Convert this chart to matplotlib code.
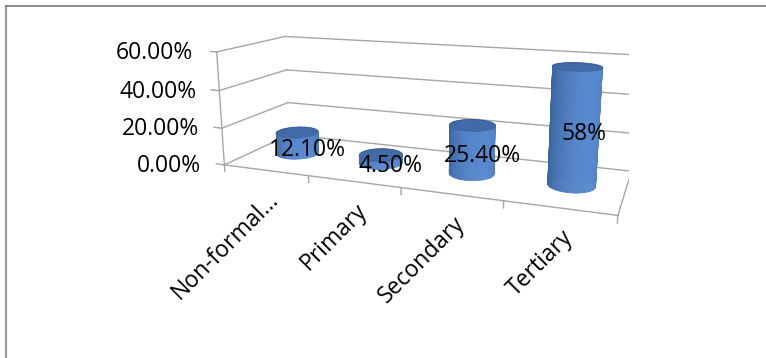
import numpy as np
import matplotlib
matplotlib.use('Agg')
import matplotlib.pyplot as plt
from matplotlib.lines import Line2D
from matplotlib.transforms import offset_copy
from mpl_toolkits.mplot3d import proj3d
from mpl_toolkits.mplot3d.art3d import Poly3DCollection

plt.rcParams['font.family'] = ['Open Sans', 'DejaVu Sans']

# data
categories = ['Non-formal...', 'Primary', 'Secondary', 'Tertiary']
shares = [12.1, 4.5, 25.4, 58.0]
share_labels = ['12.10%', '4.50%', '25.40%', '58%']
value_ticks = [0, 20, 40, 60]
value_tick_labels = ['0.00%', '20.00%', '40.00%', '60.00%']

W, H = 766, 358
fig = plt.figure(figsize=(W / 100, H / 100), dpi=100)

# camera roughly matched to the excel 3-D rotation
elev, azim, focal = 13.39, -69.27, 0.3149
box = (1, 0.3226, 0.2976)
S, cx, cy = 419.1, 419.5, 117.5
w, h = S / W, S / H
ax = fig.add_axes([cx / W - w / 2, (H - cy) / H - h / 2, w, h],
                  projection='3d', computed_zorder=False)
ax.set_xlim(0, len(categories))
ax.set_ylim(0, 1)
ax.set_zlim(0, 60)
ax.set_box_aspect(box)
ax.view_init(elev=elev, azim=azim, roll=0)
ax.set_proj_type('persp', focal_length=focal)
ax.set_axis_off()
ax.patch.set_alpha(0)

M = ax.get_proj()


def label(x, y, z, s, dx=0, dy=0, **kw):
    # 3d anchor -> 2d text so rotation / offsets behave
    px, py, _ = proj3d.proj_transform(x, y, z, M)
    tr = offset_copy(ax.transData, fig=fig, x=dx, y=dy, units='dots')
    return ax.text2D(px, py, s, transform=tr, fontsize=16.5, **kw)


n = len(categories)
zmax = value_ticks[-1]
grid = dict(color='#a6a6a6', lw=1.0, zorder=1)

# walls: back wall + left wall gridlines
for z in value_ticks:
    ax.plot([0, n], [1, 1], [z, z], **grid)
    ax.plot([0, 0], [0, 1], [z, z], **grid)
# value axis and floor outline
ax.plot([0, 0], [0, 0], [0, zmax], **grid)
ax.plot([0, n], [0, 0], [0, 0], **grid)
ax.plot([n, n], [0, 1], [0, 0], **grid)

# ticks
for z in value_ticks:
    ax.plot([-0.1, 0], [0, 0], [z, z], **grid)
for i in range(n + 1):
    ax.plot([i, i], [0, 0], [0, -3.5], **grid)

# tick labels
for z, lab in zip(value_ticks, value_tick_labels):
    label(-0.1, 0, z, lab, dx=-15, dy=-2, ha='right', va='center')
for i, cat in enumerate(categories):
    label(i + 0.5, 0, 0, cat, dx=10, dy=-26, ha='right', va='center',
          rotation=45, rotation_mode='anchor')

# cylinders
rx = 0.225
ry = rx * (box[0] / n) / box[1]
theta = np.linspace(0, 2 * np.pi, 73)
az = np.deg2rad(azim)
view_dir = np.array([np.cos(az), np.sin(az)])
right_dir = np.array([-np.sin(az), np.cos(az)])
dark = np.array([0.20, 0.35, 0.57])
light = np.array([0.35, 0.54, 0.81])

for i, v in enumerate(shares):
    x0, y0 = i + 0.5, 0.5
    xs = x0 + rx * np.cos(theta)
    ys = y0 + ry * np.sin(theta)
    quads, cols = [], []
    for j in range(len(theta) - 1):
        quads.append([(xs[j], ys[j], 0), (xs[j + 1], ys[j + 1], 0),
                      (xs[j + 1], ys[j + 1], v), (xs[j], ys[j], v)])
        tm = 0.5 * (theta[j] + theta[j + 1])
        nrm = np.array([np.cos(tm), np.sin(tm)])
        phi = np.arctan2(nrm @ right_dir, nrm @ view_dir)
        wgt = ((1 + np.cos(phi - np.deg2rad(25))) / 2) ** 1.2
        cols.append(tuple(dark + (light - dark) * wgt))
    side = Poly3DCollection(quads, facecolors=cols, edgecolors=cols, linewidths=0.5, zorder=2)
    ax.add_collection3d(side)
    cap = Poly3DCollection([list(zip(xs, ys, np.full_like(xs, v)))],
                           facecolors='#416aa6', edgecolors='#3b639d', linewidths=0.5, zorder=2.1)
    ax.add_collection3d(cap)
    label(x0, y0, v / 2, share_labels[i], dx=10, dy=-7, ha='center', va='center', zorder=6)

# chart frame (clipped by the page at right and bottom)
fig.add_artist(Line2D([5.5 / W, 5.5 / W], [0, 1 - 6 / H], color='#999999', lw=1.6))
fig.add_artist(Line2D([5.5 / W, 1], [1 - 6 / H, 1 - 6 / H], color='#7a7a7a', lw=1.2))

fig.savefig('out.png', dpi=100)
